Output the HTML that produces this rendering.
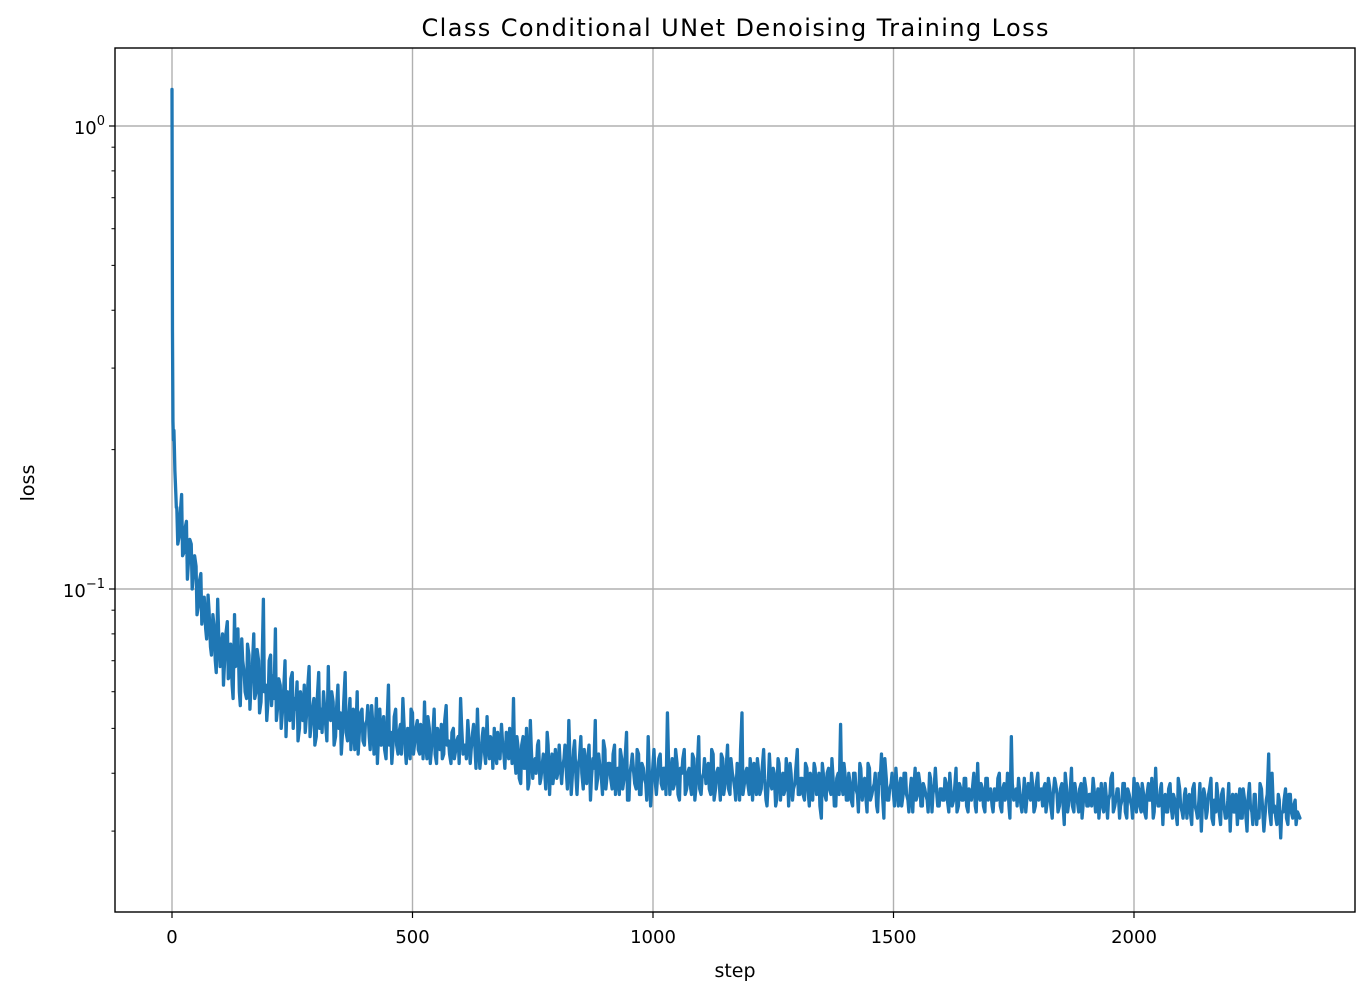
<!DOCTYPE html>
<html><head><meta charset="utf-8"><style>
body{margin:0;background:#fff;}
svg text{font-family:"DejaVu Sans","Liberation Sans",sans-serif;fill:#000;}
</style></head><body>
<svg id="chart" width="1371" height="998" xmlns="http://www.w3.org/2000/svg"></svg>
<script>
// steps 0..9 individually, loss in thousandths
const headLoss = [1200,360,230,210,220,200,180,170,160,150];
// from step 10 onward every 5 steps, loss in thousandths
const stride = 5;
const tailLoss = [
150,130,160,120,140,118,125,110,112,92,108,90,82,97,75,88,70,95,68,80,
72,85,65,62,88,70,60,78,66,58,72,64,80,60,70,57,95,62,58,72,
65,82,56,62,55,70,60,52,66,58,63,50,56,62,54,68,52,58,48,66,
55,60,50,68,52,57,48,62,54,50,66,47,58,52,45,60,50,55,46,52,
48,56,44,58,50,46,53,43,62,49,47,55,44,51,58,45,50,43,54,47,
52,44,49,57,43,50,46,55,42,48,51,44,56,47,42,50,45,48,58,44,
46,52,42,49,45,55,41,48,44,53,43,47,50,42,46,51,44,49,43,47,
58,40,45,38,48,41,37,52,39,43,46,38,42,40,49,36,44,41,39,46,
38,43,40,52,36,45,39,42,48,37,41,44,35,43,52,39,41,36,45,40,
42,37,46,40,36,43,39,49,35,42,40,37,44,36,41,38,48,34,42,38,
40,44,37,41,54,36,43,38,42,35,40,45,37,41,36,43,38,48,36,40,
38,42,36,44,37,41,35,43,38,46,36,40,37,42,35,54,38,41,36,40,
42,36,40,37,45,35,39,38,41,34,43,35,40,37,39,42,35,38,45,36,
39,35,41,34,38,42,36,40,32,39,35,41,36,38,34,40,51,36,39,35,
38,34,40,36,42,35,39,33,41,36,38,34,40,44,32,39,35,38,36,41,
34,39,36,40,35,37,33,41,36,38,34,37,35,40,33,38,36,34,37,35,
38,33,36,35,41,34,37,35,39,33,36,38,34,42,35,37,33,39,36,34,
37,35,40,33,38,36,34,48,35,37,39,34,36,33,38,35,37,34,40,36,
34,38,35,37,32,39,36,34,38,31,37,35,41,33,36,33,38,35,37,34,
36,39,33,37,35,34,38,32,36,40,34,37,32,35,38,32,36,34,39,33,
37,33,36,32,38,35,32,41,34,37,31,36,33,38,32,35,31,37,33,36,
32,36,31,38,33,35,30,37,32,36,39,31,33,35,31,37,32,35,30,36,
33,31,37,32,35,30,38,33,36,31,32,37,30,35,44,31,33,32,36,29,
33,37,31,36,32,35,33,32];
// interleaved samples at steps 12,17,22,... (every 5), loss in thousandths
const midStart = 12;
const midLoss = [
125,145,118,135,105,128,100,118,88,104,84,96,78,90,72,84,66,80,74,62,
80,64,76,58,68,82,56,70,60,76,55,68,58,74,54,66,60,52,70,56,
58,52,64,50,60,48,58,64,50,55,47,60,52,49,61,48,55,46,58,50,
49,56,47,53,60,46,55,50,44,57,49,52,45,55,48,44,54,47,51,56,
45,52,47,42,55,48,45,51,46,42,53,46,49,44,52,42,47,55,44,50,
45,51,43,47,53,42,48,44,50,45,43,52,46,44,49,43,47,42,51,46,
43,48,45,51,41,47,43,50,42,46,48,41,45,49,43,47,41,46,50,42,
44,48,39,46,41,50,38,45,42,40,47,39,44,37,46,41,38,45,40,42,
41,46,37,44,39,47,36,43,40,45,38,46,39,41,37,44,40,47,37,42,
39,44,36,41,45,37,43,35,40,44,38,45,36,42,39,35,41,37,45,36,
43,38,41,36,44,39,37,45,36,41,43,36,40,38,44,35,41,37,39,43,
41,37,45,35,40,39,44,36,41,37,43,39,35,41,45,36,40,38,43,35,
38,43,36,41,39,34,44,37,40,35,42,38,36,43,34,40,37,41,36,39,
36,42,37,40,35,41,38,34,42,36,40,37,43,34,39,36,38,42,35,40,
35,40,37,33,41,38,36,42,35,37,40,33,38,36,43,35,37,40,34,38,
37,34,40,36,33,39,37,35,40,34,38,36,33,39,36,41,34,37,35,39,
35,40,34,37,33,38,35,39,34,37,35,40,33,36,38,34,39,35,37,33,
35,39,34,37,35,40,32,38,36,34,37,33,39,35,36,40,33,38,35,37,
37,33,39,34,36,38,33,37,35,40,33,36,34,38,35,37,32,39,34,36,
34,37,35,32,38,33,36,35,39,33,35,37,34,38,33,37,35,32,36,38,
34,38,33,36,35,39,33,36,34,38,35,33,37,34,36,33,39,34,32,37,
35,33,37,34,32,38,34,36,33,37,32,35,38,33,36,34,32,38,34,33,
36,34,32,37,33,35,34,31,36,33,38,34,32,36,33,40,34,31,35,33,
35,32,36,33,34,31];
const xTicks = [0,500,1000,1500,2000];
const yMajor = [0,-1];
const yMinor = [0.03,0.04,0.05,0.06,0.07,0.08,0.09,0.2,0.3,0.4,0.5,0.6,0.7,0.8,0.9];

const L=115,R=1355,T=48,B=912;
const X = s => 172 + s*(240.5/500);
const Y = v => 126 - 463*Math.log10(v);
const svg=document.getElementById('chart');
const NS='http://www.w3.org/2000/svg';
function mk(tag,attrs,parent){const e=document.createElementNS(NS,tag);for(const k in attrs)e.setAttribute(k,attrs[k]);(parent||svg).appendChild(e);return e;}

// grid
for(const t of xTicks){
  const g=mk('line',{x1:X(t),x2:X(t),y1:T,y2:B,stroke:'#b0b0b0','stroke-width':1.4});
  
  
}
for(const p of yMajor){
  const y=Y(Math.pow(10,p));
  const g=mk('line',{x1:L,x2:R,y1:y,y2:y,stroke:'#b0b0b0','stroke-width':1.4});
  
  
}

// series: merge all samples by step
const samples=[];
headLoss.forEach((v,i)=>samples.push([i,v]));
tailLoss.forEach((v,i)=>samples.push([10+i*stride,v]));
midLoss.forEach((v,i)=>samples.push([midStart+i*stride,v]));
samples.sort((a,b)=>a[0]-b[0]);
const pts=samples.map(s=>X(s[0]).toFixed(2)+','+Y(s[1]/1000).toFixed(2));
const line=mk('polyline',{points:pts.join(' '),fill:'none',stroke:'#1f77b4','stroke-width':3.3,'stroke-linejoin':'round','stroke-linecap':'round'});



// frame
const fr=mk('rect',{x:L,y:T,width:R-L,height:B-T,fill:'none',stroke:'#000','stroke-width':1.4});



// x ticks
for(const t of xTicks){
  mk('line',{x1:X(t),x2:X(t),y1:B,y2:B+6,stroke:'#000','stroke-width':1.2});
  const tx=mk('text',{x:X(t),y:B+31,'font-size':18,'text-anchor':'middle'});
  tx.textContent=t;
  
  
}
// y ticks
for(const p of yMajor){
  const y=Y(Math.pow(10,p));
  mk('line',{x1:L-6,x2:L,y1:y,y2:y,stroke:'#000','stroke-width':1.2});
  const tx=mk('text',{x:L-10,y:y+8,'font-size':18,'text-anchor':'end'});
  tx.innerHTML='10<tspan dy="-9" font-size="13">'+(p===0?'0':'\u22121')+'</tspan>';
  
  
}
for(const v of yMinor){
  const y=Y(v);
  mk('line',{x1:L-3.5,x2:L,y1:y,y2:y,stroke:'#000','stroke-width':1});
}

// labels
const title=mk('text',{x:735,y:36,'font-size':24,'text-anchor':'middle',textLength:627,lengthAdjust:'spacing'});
title.textContent='Class Conditional UNet Denoising Training Loss';


const xl=mk('text',{x:735,y:977,'font-size':19,'text-anchor':'middle'});
xl.textContent='step';


const yl=mk('text',{x:34,y:483,'font-size':19,'text-anchor':'middle',transform:'rotate(-90 34 483)'});
yl.textContent='loss';


</script>
</body></html>
